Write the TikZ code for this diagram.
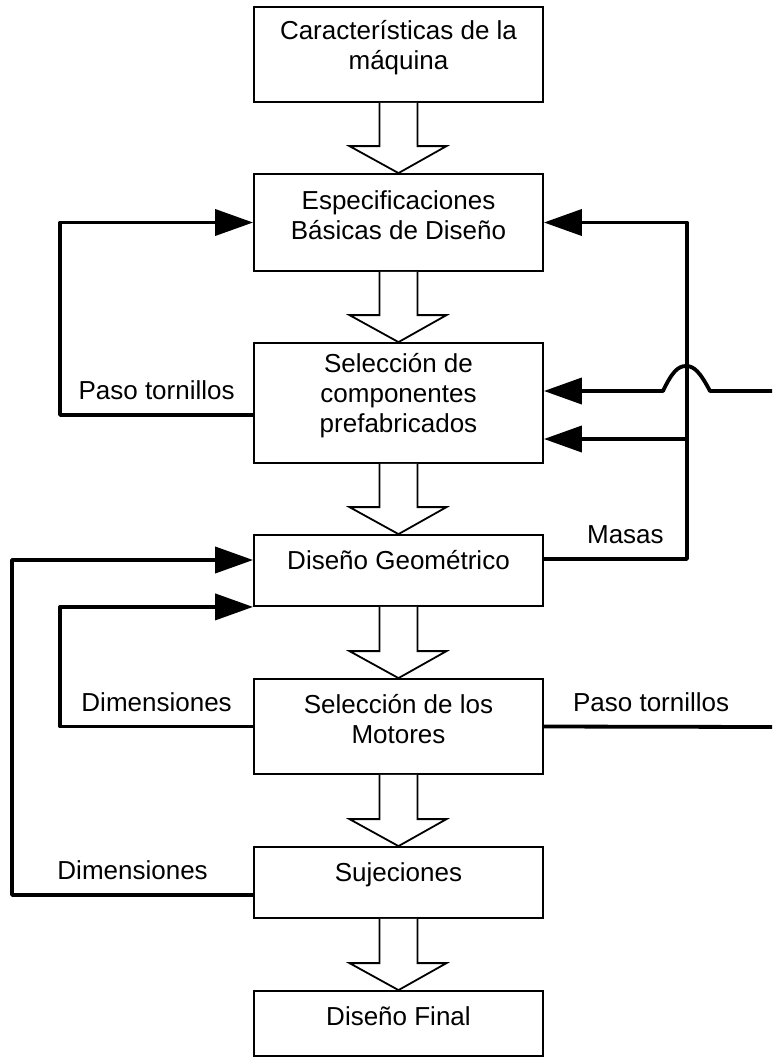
\documentclass[tikz,border=0pt]{standalone}
\usepackage{fontspec}
\setmainfont{Liberation Sans}
\usetikzlibrary{arrows.meta}
\tikzset{
  box/.style={draw, line width=1.8pt, minimum width=289pt, inner sep=0pt},
  txt/.style={font=\fontsize{26}{30}\selectfont, align=center, inner sep=0pt, yshift=7pt},
  hollow/.style={draw, line width=1.8pt, fill=white},
  feed/.style={line width=3.8pt, line join=round},
  flow/.style={feed, -{Triangle[length=38pt,width=26pt]}},
  tag/.style={font=\fontsize{26}{30}\selectfont, inner sep=0pt, above=13pt},
}
\begin{document}
\begin{tikzpicture}[x=1pt, y=-1pt]
    \useasboundingbox (0,0) rectangle (772,1058);
    % main column
    \node[box, minimum height=95pt, label={[txt]center:{Características de la\\máquina}}] (car) at (398.5,54.5) {};
    \node[box, minimum height=97pt, label={[txt]center:{Especificaciones\\Básicas de Diseño}}] (esp) at (398.5,222.5) {};
    \node[box, minimum height=120pt, label={[txt]center:{Selección de\\componentes\\prefabricados}}] (sel) at (398.5,403) {};
    \node[box, minimum height=71pt, label={[txt, yshift=3pt]center:Diseño Geométrico}] (geo) at (398.5,570.5) {};
    \node[box, minimum height=95pt, label={[txt]center:{Selección de los\\Motores}}] (mot) at (398.5,726.5) {};
    \node[box, minimum height=71pt, label={[txt, yshift=1pt]center:Sujeciones}] (suj) at (398.5,882.5) {};
    \node[box, minimum height=65pt, label={[txt]center:Diseño Final}] (fin) at (398.5,1023.5) {};
    % hollow arrows between steps
    \foreach \a/\b in {car/esp, esp/sel, sel/geo, geo/mot, mot/suj, suj/fin} {
      \draw[hollow] ([xshift=-19pt]\a.south) -- ([xshift=-19pt, yshift=27pt]\b.north)
        -- ([xshift=-49pt, yshift=27pt]\b.north) -- (\b.north)
        -- ([xshift=48pt, yshift=27pt]\b.north) -- ([xshift=19pt, yshift=27pt]\b.north)
        -- ([xshift=19pt]\a.south);
    }
    % feedback on the left
    \draw[flow] ([yshift=-12pt]sel.west) -- node[tag]{Paso tornillos} ++(-193,0) |- (esp.west);
    \draw[flow] (mot.west) -- node[tag]{Dimensiones} ++(-193,0) |- (geo.south west);
    \draw[flow] ([yshift=-12.5pt]suj.west) -- node[tag]{Dimensiones} ++(-241,0) |- ([yshift=10.5pt]geo.west);
    % feedback on the right
    \coordinate (jn) at (686,439);
    \coordinate (rin) at (772,391);
    \coordinate (rout) at (772,727);
    \draw[flow] ([yshift=11.5pt]geo.east) -- node[tag, pos=0.57]{Masas} ++(143,0) |- (esp.east);
    \draw[flow] (jn) -- (sel.east |- jn);
    \draw[flow] (rin) -- (710,391) .. controls (700,372) and (694,366) .. (686,366)
      .. controls (678,366) and (672,372) .. (663,391) -- (sel.east |- rin);
    \draw[feed] (mot.east) -- node[tag, pos=0.47]{Paso tornillos} (rout);
\end{tikzpicture}
\end{document}
